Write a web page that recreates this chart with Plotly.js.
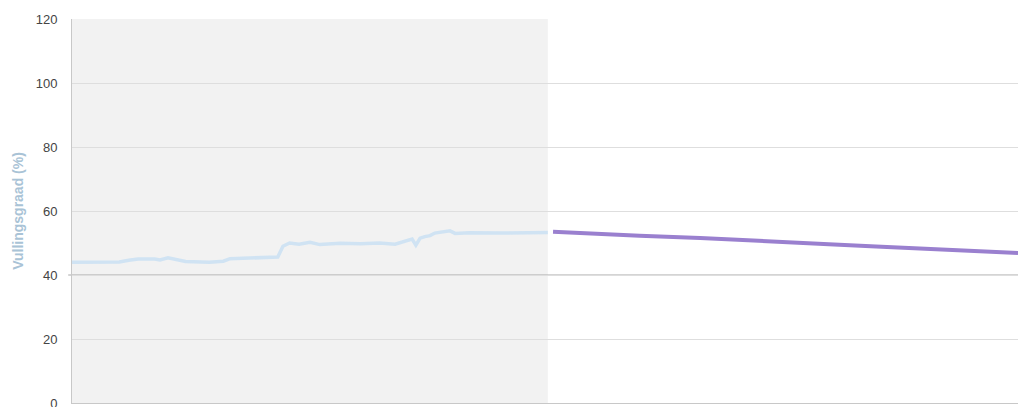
<!DOCTYPE html>
<html>
<head>
<meta charset="utf-8">
<script src="https://cdn.plot.ly/plotly-3.0.1.min.js"></script>
<style>html,body{margin:0;padding:0;background:#fff;}#chart{width:1018px;height:407px;}</style>
</head>
<body>
<div id="chart"></div>
<script>
// Days on the x axis (0 = start of the history window)
const historyDays = [0, 5.9, 10, 12, 14, 17.5, 18.6, 20.3, 21.8, 24, 29, 32, 33.4, 37.6, 41.9, 43.5, 44.6, 46, 48, 50.3, 52.4, 56.7, 61, 65, 68.3, 70.4, 71.9, 72.7, 73.6, 74.6, 75.7, 76.7, 79.9, 81, 84, 90.5, 96.8, 100.6];
const historyFill = [44.0, 44.0, 44.1, 44.6, 45.0, 45.0, 44.7, 45.4, 44.8, 44.2, 44.0, 44.3, 45.1, 45.2, 45.4, 45.6, 49.0, 50.0, 49.6, 50.2, 49.5, 49.9, 49.8, 50.0, 49.6, 50.4, 51.2, 49.3, 51.5, 52.0, 52.3, 53.1, 53.8, 53.0, 53.2, 53.1, 53.2, 53.3];
const forecastDays = [101.7, 110, 120, 132.8, 140, 153.9, 160, 170, 180, 190, 200];
const forecastFill = [53.5, 52.9, 52.3, 51.6, 51.0, 50.0, 49.6, 48.9, 48.2, 47.6, 46.9];
const historyEnd = 100.6;
const yTicks = [0, 20, 40, 60, 80, 100, 120];
const yTitle = 'Vullingsgraad (%)';

const traces = [
  {x: historyDays, y: historyFill, mode: 'lines', line: {color: '#d0e3f3', width: 3.5}, hoverinfo: 'skip'},
  {x: forecastDays, y: forecastFill, mode: 'lines', line: {color: '#9a80cf', width: 4}, hoverinfo: 'skip'}
];

const layout = {
  width: 1018, height: 407,
  margin: {l: 72, r: 0, t: 19, b: 4, pad: 0},
  paper_bgcolor: '#ffffff', plot_bgcolor: '#ffffff',
  showlegend: false,
  font: {family: 'Liberation Sans, Arial, sans-serif', size: 12, color: '#444'},
  xaxis: {range: [0, 200], showgrid: false, zeroline: false, showticklabels: false, ticks: '',
          showline: true, linecolor: '#c8c8c8', linewidth: 1, fixedrange: true},
  yaxis: {range: [0, 120], tickvals: yTicks, ticktext: yTicks.map(String), showgrid: true, gridcolor: '#dedede',
          zeroline: false, showline: true, linecolor: '#c8c8c8', linewidth: 1, ticks: '', ticklabelstandoff: 11,
          ticklabeloverflow: 'allow',
          tickfont: {size: 13, color: '#444'},
          title: {text: yTitle, font: {size: 14, color: '#a9c3d6', family: 'Liberation Sans, Arial, sans-serif', weight: 'bold'}, standoff: 8},
          fixedrange: true},
  shapes: [
    {type: 'rect', xref: 'x', yref: 'paper', x0: 0, x1: historyEnd, y0: 0, y1: 1, fillcolor: '#f2f2f2', line: {width: 0}, layer: 'below'},
    {type: 'line', xref: 'paper', yref: 'y', x0: -0.004, x1: 1, y0: 40, y1: 40, line: {color: '#a8a8a8', width: 1}, layer: 'below'}
  ]
};

Plotly.newPlot('chart', traces, layout, {displayModeBar: false, staticPlot: true});
</script>
</body>
</html>
